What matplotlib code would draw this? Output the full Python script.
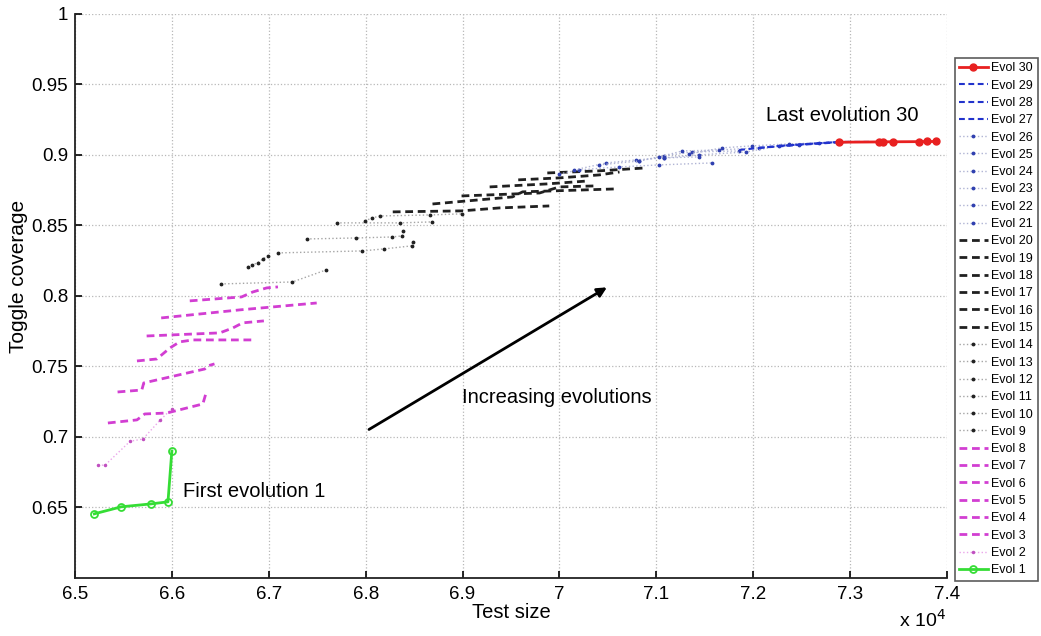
import matplotlib
matplotlib.use("Agg")
import matplotlib.pyplot as plt
from matplotlib.ticker import FuncFormatter, FixedLocator

plt.rcParams['font.family'] = ['Liberation Sans', 'DejaVu Sans']

# ---- data: test size (raw) and toggle coverage for each evolution ----
evol1_x = [65200, 65480, 65780, 65960, 66000]
evol1_y = [0.6455, 0.6505, 0.6525, 0.6540, 0.6900]
evol2_x = [65240, 65310, 65570, 65700, 65880, 66000]
evol2_y = [0.680, 0.680, 0.697, 0.6985, 0.712, 0.720]
evol3_x = [65340, 65640, 65720, 65950, 66320, 66350]
evol3_y = [0.7099, 0.7121, 0.7163, 0.7170, 0.7234, 0.7305]
evol4_x = [65440, 65690, 65710, 66340, 66370, 66440]
evol4_y = [0.7319, 0.7333, 0.7383, 0.7482, 0.7504, 0.7518]
evol5_x = [65640, 65845, 65980, 66080, 66215, 66855]
evol5_y = [0.7539, 0.7553, 0.7631, 0.7674, 0.7688, 0.7688]
evol6_x = [65740, 66495, 66630, 66730, 66950]
evol6_y = [0.7716, 0.7738, 0.7773, 0.7809, 0.7823]
evol7_x = [65890, 66700, 67495]
evol7_y = [0.7844, 0.7901, 0.7950]
evol8_x = [66185, 66720, 66835, 66980, 67095]
evol8_y = [0.7965, 0.7993, 0.8028, 0.8057, 0.8064]
evol9_x = [66505, 67245, 67590]
evol9_y = [0.8085, 0.8099, 0.8184]
evol10_x = [66785, 66825, 66885, 66940, 66990]
evol10_y = [0.8206, 0.8220, 0.8234, 0.8262, 0.8284]
evol11_x = [67095, 67960, 68185, 68475, 68485]
evol11_y = [0.8305, 0.8319, 0.8333, 0.8355, 0.8383]
evol12_x = [67390, 67905, 68270, 68380, 68390]
evol12_y = [0.8404, 0.8411, 0.8418, 0.8426, 0.8461]
evol13_x = [67700, 68350, 68690]
evol13_y = [0.8518, 0.8518, 0.8525]
evol14_x = [67990, 68070, 68145, 68660, 68990]
evol14_y = [0.8532, 0.8553, 0.8567, 0.8574, 0.8582]
evol15_x = [68280, 68990, 69380, 69895]
evol15_y = [0.8596, 0.8603, 0.8624, 0.8638]
evol16_x = [68690, 69515, 69620, 70590]
evol16_y = [0.8652, 0.8702, 0.8738, 0.8759]
evol17_x = [68990, 69795, 70000, 70360]
evol17_y = [0.8709, 0.8730, 0.8773, 0.8780]
evol18_x = [69280, 69865, 70310]
evol18_y = [0.8773, 0.8794, 0.8816]
evol19_x = [69575, 70000, 70410, 70620]
evol19_y = [0.8823, 0.8837, 0.8858, 0.8879]
evol20_x = [69875, 70410, 70895]
evol20_y = [0.8872, 0.8887, 0.8908]
evol21_x = [70000, 70205, 70620, 71030, 71575]
evol21_y = [0.8865, 0.8894, 0.8915, 0.8929, 0.8943]
evol22_x = [70155, 70485, 70795, 71080, 71445]
evol22_y = [0.8894, 0.8943, 0.8965, 0.8979, 0.8986]
evol23_x = [70410, 70825, 71080, 71370, 71855]
evol23_y = [0.8929, 0.8957, 0.8993, 0.9021, 0.9028]
evol24_x = [70825, 71030, 71270, 71650, 72060]
evol24_y = [0.8957, 0.8986, 0.9028, 0.9035, 0.9050]
evol25_x = [71080, 71445, 71930, 72270, 72475]
evol25_y = [0.8979, 0.9000, 0.9021, 0.9064, 0.9071]
evol26_x = [71340, 71680, 71990, 72370, 72680]
evol26_y = [0.9007, 0.9050, 0.9064, 0.9078, 0.9085]
evol27_x = [71855, 72270, 72575, 72885]
evol27_y = [0.9035, 0.9064, 0.9078, 0.9092]
evol28_x = [72060, 72475, 72785, 72990]
evol28_y = [0.9050, 0.9071, 0.9085, 0.9092]
evol29_x = [72270, 72575, 72885, 73195]
evol29_y = [0.9064, 0.9078, 0.9092, 0.9092]
evol30_x = [72885, 73300, 73340, 73445, 73710, 73795, 73885]
evol30_y = [0.9090, 0.9092, 0.9093, 0.9093, 0.9094, 0.9095, 0.9095]

x_ticks = [65000, 66000, 67000, 68000, 69000, 70000, 71000, 72000, 73000, 74000]
y_ticks = [0.65, 0.70, 0.75, 0.80, 0.85, 0.90, 0.95, 1.00]

series = [
    (evol1_x, evol1_y), (evol2_x, evol2_y), (evol3_x, evol3_y), (evol4_x, evol4_y),
    (evol5_x, evol5_y), (evol6_x, evol6_y), (evol7_x, evol7_y), (evol8_x, evol8_y),
    (evol9_x, evol9_y), (evol10_x, evol10_y), (evol11_x, evol11_y), (evol12_x, evol12_y),
    (evol13_x, evol13_y), (evol14_x, evol14_y), (evol15_x, evol15_y), (evol16_x, evol16_y),
    (evol17_x, evol17_y), (evol18_x, evol18_y), (evol19_x, evol19_y), (evol20_x, evol20_y),
    (evol21_x, evol21_y), (evol22_x, evol22_y), (evol23_x, evol23_y), (evol24_x, evol24_y),
    (evol25_x, evol25_y), (evol26_x, evol26_y), (evol27_x, evol27_y), (evol28_x, evol28_y),
    (evol29_x, evol29_y), (evol30_x, evol30_y),
]

DASH = (0, (2.8, 1.7))


def style(i):
    n = i + 1
    if n == 1:
        return dict(color='#35dd35', ls='-', lw=2.0, marker='o', ms=5,
                    mfc='none', mec='#35dd35', mew=1.3)
    if n == 2:
        return dict(color='#eaa6ea', ls=':', lw=1.0, marker='.', ms=3,
                    mfc='#c050c0', mec='#c050c0')
    if n <= 8:
        return dict(color='#d23ed2', ls=DASH, lw=2.0)
    if n <= 14:
        return dict(color='#a5a5a5', ls=':', lw=1.0, marker='.', ms=3.5,
                    mfc='#222222', mec='#222222')
    if n <= 20:
        return dict(color='#202020', ls=DASH, lw=2.0)
    if n <= 26:
        return dict(color='#b0b4d4', ls=':', lw=1.0, marker='.', ms=3.5,
                    mfc='#3040b0', mec='#3040b0')
    if n <= 29:
        return dict(color='#2233cc', ls=DASH, lw=1.5)
    return dict(color='#e82020', ls='-', lw=2.0, marker='o', ms=5,
                mfc='#e82020', mec='#e82020')


fig = plt.figure(figsize=(10.41, 6.36), dpi=100)
ax = fig.add_axes([0.072, 0.0912, 0.8377, 0.887])

handles = []
for i, (xs, ys) in enumerate(series):
    h, = ax.plot(xs, ys, label=f'Evol {i + 1}', **style(i))
    handles.append(h)

ax.set_xlim(65000, 74000)
ax.set_ylim(0.6, 1.0)
ax.xaxis.set_major_locator(FixedLocator(x_ticks))
ax.yaxis.set_major_locator(FixedLocator(y_ticks))
ax.xaxis.set_major_formatter(FuncFormatter(lambda v, p: '%g' % round(v / 1e4, 3)))
ax.yaxis.set_major_formatter(FuncFormatter(lambda v, p: '%g' % round(v, 3)))
ax.tick_params(direction='in', length=5, width=1.2, labelsize=13.5,
               top=False, right=False)
ax.tick_params(axis='x', pad=6)
ax.tick_params(axis='y', pad=5)
ax.spines['top'].set_visible(False)
ax.spines['right'].set_visible(False)
for s in ('left', 'bottom'):
    ax.spines[s].set_linewidth(1.3)
    ax.spines[s].set_color('#222222')
ax.grid(True, ls=':', color='#b8b8b8', lw=0.9)
ax.set_axisbelow(True)

ax.set_xlabel('Test size', fontsize=14.5)
ax.xaxis.set_label_coords(0.5, -0.045)
ax.set_ylabel('Toggle coverage', fontsize=15)
ax.yaxis.set_label_coords(-0.054, 0.535)

ax.text(72130, 0.928, 'Last evolution 30', fontsize=14.5, va='center', ha='left')
ax.text(66120, 0.661, 'First evolution 1', fontsize=14.5, va='center', ha='left')
ax.text(68990, 0.7277, 'Increasing evolutions', fontsize=14.5, va='center', ha='left')
ax.annotate('', xy=(70515, 0.8071), xytext=(68010, 0.7043),
            arrowprops=dict(arrowstyle='-|>', color='black', lw=2,
                            mutation_scale=14))

fig.text(0.864, 0.025, r'x 10$^{4}$', fontsize=14, ha='left', va='center')

leg = fig.legend(handles[::-1], [h.get_label() for h in handles[::-1]],
                 loc='upper left', bbox_to_anchor=(0.917, 0.909),
                 fontsize=9.0, labelspacing=0.425, handlelength=2.3,
                 handletextpad=0.3, borderpad=0.35, borderaxespad=0,
                 frameon=True, fancybox=False, edgecolor='#333333')
leg.get_frame().set_linewidth(1.2)

fig.savefig('out.png', dpi=100)
